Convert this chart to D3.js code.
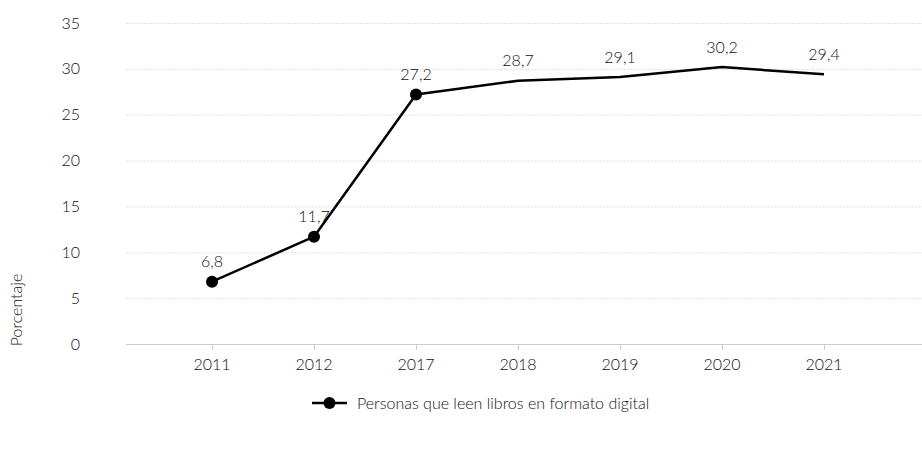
<!DOCTYPE html>
<html>
<head>
<meta charset="utf-8">
<script src="https://cdn.jsdelivr.net/npm/d3@7"></script>
<style>
  body { margin: 0; background: #fff; }
  text { font-family: "Source Sans Pro", Lato, "Noto Sans", sans-serif; font-weight: 300; fill: #111; }
</style>
</head>
<body>
<div id="chart"></div>
<script>
// datos
const years = ["2011", "2012", "2017", "2018", "2019", "2020", "2021"];
const values = [6.8, 11.7, 27.2, 28.7, 29.1, 30.2, 29.4];
const markerYears = ["2011", "2012", "2017"];
const yTicks = [0, 5, 10, 15, 20, 25, 30, 35];
const seriesName = "Personas que leen libros en formato digital";

const width = 922, height = 456;
const plotLeft = 126, plotRight = 922, plotTop = 23, plotBottom = 344;
const fontSize = "16px";

const svg = d3.select("#chart").append("svg")
    .attr("width", width)
    .attr("height", height);

const x = d3.scalePoint().domain(years).range([212, 824]);
const y = d3.scaleLinear().domain([0, 35]).range([plotBottom, plotTop]);

// rejilla
svg.append("g")
    .selectAll("line")
    .data(yTicks.filter(d => d > 0))
    .enter().append("line")
    .attr("x1", plotLeft).attr("x2", plotRight)
    .attr("y1", d => y(d) + 0.5).attr("y2", d => y(d) + 0.5)
    .attr("stroke", "#e2e2e2")
    .attr("stroke-dasharray", "2,1");

// etiquetas eje y
svg.append("g")
    .selectAll("text")
    .data(yTicks)
    .enter().append("text")
    .attr("x", 80)
    .attr("y", d => y(d))
    .attr("dy", "0.35em")
    .attr("text-anchor", "end")
    .style("font-size", fontSize)
    .text(d => d);

// eje x
const xAxis = svg.append("g");
xAxis.append("line")
    .attr("x1", plotLeft).attr("x2", plotRight)
    .attr("y1", plotBottom + 0.5).attr("y2", plotBottom + 0.5)
    .attr("stroke", "#ccc");
xAxis.selectAll("line.tick")
    .data(years)
    .enter().append("line")
    .attr("class", "tick")
    .attr("x1", d => x(d) + 0.5).attr("x2", d => x(d) + 0.5)
    .attr("y1", plotBottom).attr("y2", plotBottom + 6)
    .attr("stroke", "#ccc");
xAxis.selectAll("text")
    .data(years)
    .enter().append("text")
    .attr("x", d => x(d))
    .attr("y", plotBottom + 20)
    .attr("dy", "0.35em")
    .attr("text-anchor", "middle")
    .style("font-size", fontSize)
    .text(d => d);

// título eje y
svg.append("text")
    .attr("transform", "translate(16,310) rotate(-90)")
    .attr("text-anchor", "middle")
    .attr("dy", "0.35em")
    .style("font-size", fontSize)
    .text("Porcentaje");

const data = years.map((yr, i) => ({ year: yr, value: values[i] }));

const line = d3.line()
    .x(d => x(d.year))
    .y(d => y(d.value));

svg.append("path")
    .datum(data)
    .attr("fill", "none")
    .attr("stroke", "#000")
    .attr("stroke-width", 2.5)
    .attr("stroke-linejoin", "round")
    .attr("d", line);

svg.append("g")
    .selectAll("circle")
    .data(data.filter(d => markerYears.includes(d.year)))
    .enter().append("circle")
    .attr("cx", d => x(d.year))
    .attr("cy", d => y(d.value))
    .attr("r", 6)
    .attr("fill", "#000");

svg.append("g")
    .selectAll("text")
    .data(data)
    .enter().append("text")
    .attr("x", d => x(d.year))
    .attr("y", d => y(d.value) - 20)
    .attr("dy", "0.35em")
    .attr("text-anchor", "middle")
    .style("font-size", fontSize)
    .text(d => d3.format(".1f")(d.value).replace(".", ","));

// leyenda
const legend = svg.append("g").attr("transform", "translate(312,403)");
legend.append("line")
    .attr("x1", 0).attr("x2", 35)
    .attr("stroke", "#000")
    .attr("stroke-width", 2.5);
legend.append("circle")
    .attr("cx", 17.5)
    .attr("r", 6)
    .attr("fill", "#000");
legend.append("text")
    .attr("x", 45)
    .attr("dy", "0.35em")
    .style("font-size", fontSize)
    .text(seriesName);
</script>
</body>
</html>
